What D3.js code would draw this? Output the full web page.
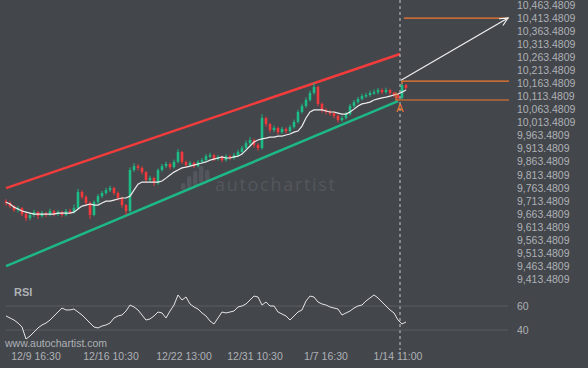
<!DOCTYPE html>
<html>
<head>
<meta charset="utf-8">
<script src="https://cdn.jsdelivr.net/npm/d3@7/dist/d3.min.js"></script>
<style>
  html, body { margin: 0; padding: 0; background: #43464b; }
  svg { display: block; }
</style>
</head>
<body>
<div id="chart"></div>
<script>
// closes, one bar every step; open is the previous close
var closes = [9706, 9694, 9679, 9686, 9663, 9648, 9660, 9671, 9656, 9667,
  9660, 9675, 9663, 9671, 9660, 9675, 9671, 9686, 9748, 9729,
  9706, 9660, 9709, 9732, 9744, 9755, 9763, 9744, 9725, 9698,
  9675, 9832, 9847, 9840, 9824, 9794, 9801, 9782, 9832, 9847,
  9855, 9843, 9863, 9901, 9863, 9851, 9859, 9847, 9863, 9870,
  9885, 9889, 9874, 9882, 9870, 9885, 9878, 9889, 9901, 9916,
  9935, 9947, 9928, 9916, 10031, 10008, 9985, 9993, 9977, 9989,
  9981, 9996, 10016, 10054, 10077, 10100, 10127, 10150, 10085, 10062,
  10054, 10050, 10039, 10023, 10031, 10046, 10077, 10092, 10104, 10115,
  10119, 10127, 10130, 10138, 10130, 10138, 10127, 10119, 10108, 10157,
  10146];
var firstOpen = 9712;
var highs = [9720, 9712, 9698, 9694, 9690, 9668, 9666, 9680, 9676, 9675,
  9672, 9684, 9680, 9678, 9676, 9683, 9684, 9700, 9760, 9755,
  9735, 9712, 9716, 9740, 9752, 9764, 9772, 9768, 9750, 9730,
  9702, 9842, 9858, 9855, 9846, 9828, 9810, 9806, 9838, 9855,
  9864, 9860, 9872, 9912, 9905, 9868, 9866, 9864, 9870, 9878,
  9893, 9898, 9894, 9890, 9887, 9892, 9891, 9897, 9910, 9925,
  9945, 9958, 9952, 9934, 10045, 10036, 10012, 10002, 9998, 9997,
  9995, 10004, 10025, 10063, 10086, 10110, 10136, 10165, 10155, 10090,
  10068, 10062, 10056, 10044, 10040, 10054, 10085, 10100, 10112, 10124,
  10128, 10136, 10140, 10146, 10144, 10147, 10143, 10132, 10124, 10163,
  10162];
var lows = [9696, 9686, 9672, 9670, 9655, 9636, 9640, 9652, 9645, 9650,
  9652, 9655, 9655, 9657, 9652, 9655, 9664, 9666, 9680, 9720,
  9698, 9645, 9655, 9702, 9725, 9738, 9748, 9736, 9715, 9688,
  9660, 9670, 9825, 9830, 9815, 9785, 9786, 9770, 9776, 9826,
  9840, 9835, 9838, 9858, 9855, 9843, 9845, 9840, 9842, 9856,
  9864, 9878, 9866, 9868, 9862, 9864, 9870, 9872, 9883, 9895,
  9910, 9928, 9918, 9906, 9910, 9998, 9975, 9978, 9968, 9970,
  9972, 9975, 9990, 10010, 10048, 10070, 10094, 10120, 10076, 10052,
  10045, 10040, 10030, 10014, 10016, 10025, 10040, 10070, 10086, 10098,
  10108, 10112, 10120, 10122, 10122, 10124, 10118, 10110, 10099, 10102,
  10140];

var movAvg = [9709, 9702, 9690, 9683, 9675, 9671, 9667, 9663, 9663, 9663,
  9663, 9663, 9663, 9667, 9667, 9667, 9667, 9671, 9683, 9694,
  9698, 9702, 9698, 9698, 9706, 9713, 9713, 9717, 9721, 9725,
  9725, 9732, 9755, 9778, 9786, 9786, 9786, 9786, 9786, 9790,
  9801, 9813, 9824, 9832, 9840, 9843, 9847, 9851, 9855, 9859,
  9863, 9870, 9874, 9878, 9882, 9878, 9878, 9882, 9885, 9893,
  9908, 9924, 9939, 9947, 9951, 9954, 9958, 9958, 9962, 9962,
  9966, 9970, 9977, 9981, 10000, 10031, 10054, 10062, 10062, 10062,
  10058, 10054, 10054, 10050, 10046, 10046, 10054, 10065, 10077, 10085,
  10088, 10092, 10100, 10104, 10108, 10111, 10115, 10119, 10123, 10130,
  10138];

var rsi = [51.7, 50, 48.3, 45.8, 42.5, 32.5, 35, 38.3, 41.7, 44.2,
  45.8, 48.3, 51.7, 55, 58.3, 56.7, 56.7, 57.5, 55, 52.5,
  49.2, 45.8, 42.5, 41.7, 43.3, 44.2, 45.8, 50, 51.7, 52.5,
  55.8, 60.8, 59.2, 56.7, 52.5, 48.3, 49.2, 51.7, 55, 54.2,
  50, 55.8, 60.8, 69.2, 65, 67.5, 61.7, 59.2, 57.5, 54.2,
  51.7, 47.5, 45, 50, 55, 54.2, 55, 55.8, 59.2, 60,
  61.7, 65, 68.3, 67.5, 60.8, 63.3, 60, 60, 55, 53.3,
  51.7, 48.3, 51.7, 55, 56.7, 64.2, 68.3, 67.5, 63.3, 61.7,
  60.8, 59.2, 58.3, 57.5, 52.5, 54.2, 55.8, 58.3, 60, 60.8,
  64.2, 66.7, 69.2, 66.7, 63.3, 60, 56.7, 54.2, 48.3, 45,
  46.7];

// channel end points [bar index, price]
var upperChannel = [[0, 9763], [98.5, 10276]];
var lowerChannel = [[0, 9464], [98, 10096]];

// forecast levels
var targetLevel = 10413.4809;
var resistLevel = 10172;
var supportLevel = 10100;
var nowIdx = 98.5;
var levelEndIdx = 125.75;

var priceTicks = [10463.4809, 10413.4809, 10363.4809, 10313.4809, 10263.4809, 10213.4809,
  10163.4809, 10113.4809, 10063.4809, 10013.4809, 9963.4809, 9913.4809, 9863.4809,
  9813.4809, 9763.4809, 9713.4809, 9663.4809, 9613.4809, 9563.4809, 9513.4809,
  9463.4809, 9413.4809];
var rsiTicks = [60, 40];
var dateIdx = [7.5, 26.25, 44.5, 62.25, 80, 98];
var dateLabels = ["12/9 16:30", "12/16 10:30", "12/22 13:00", "12/31 10:30", "1/7 16:30", "1/14 11:00"];

var width = 588, height = 368;
var font = "'Liberation Sans', Arial, sans-serif";
var textCol = "#aeb1b6";
var upCol = "#1dbb85", downCol = "#f0393c";

var x = d3.scaleLinear().domain([0, 100]).range([6, 406]);
var y = d3.scaleLinear().domain([9413.4809, 10463.4809]).range([279.4, 5]);
var yR = d3.scaleLinear().domain([40, 60]).range([330, 306]);

var svg = d3.select("#chart").append("svg")
    .attr("width", width)
    .attr("height", height)
    .style("background-color", "#43464b");

// watermark
var wm = svg.append("g").attr("fill", "#53575d");
[[181, 183, 190], [187, 176, 190], [193, 171, 186], [199, 166, 183], [205, 170, 181]].forEach(function(b) {
  wm.append("rect").attr("x", b[0]).attr("y", b[1]).attr("width", 4.5)
    .attr("height", b[2] - b[1]).attr("rx", 2);
});
wm.append("text")
    .attr("x", 215).attr("y", 191)
    .attr("font-family", "'Open Sans', sans-serif")
    .attr("font-size", 18)
    .attr("textLength", 120)
    .text("autochartist");

// right price axis
svg.append("g").selectAll("text")
    .data(priceTicks).enter().append("text")
    .attr("x", 517)
    .attr("y", function(d) { return y(d); })
    .attr("dy", "0.35em")
    .attr("font-family", font)
    .attr("font-size", 10.5)
    .attr("fill", textCol)
    .text(d3.format(",.4f"));

// channel lines
var line = d3.line()
    .x(function(d) { return x(d[0]); })
    .y(function(d) { return y(d[1]); });
svg.append("path").datum(upperChannel)
    .attr("d", line).attr("stroke", "#f23c3c").attr("stroke-width", 2.5).attr("fill", "none");
svg.append("path").datum(lowerChannel)
    .attr("d", line).attr("stroke", "#1db886").attr("stroke-width", 2.5).attr("fill", "none");

// candles
function openOf(i) { return i ? closes[i - 1] : firstOpen; }
function colOf(d, i) { return d >= openOf(i) ? upCol : downCol; }
var bars = svg.append("g");
bars.selectAll("line")
    .data(closes).enter().append("line")
    .attr("x1", function(d, i) { return x(i); })
    .attr("x2", function(d, i) { return x(i); })
    .attr("y1", function(d, i) { return y(highs[i]); })
    .attr("y2", function(d, i) { return y(lows[i]); })
    .attr("stroke", colOf)
    .attr("stroke-width", 1);
bars.selectAll("rect")
    .data(closes).enter().append("rect")
    .attr("x", function(d, i) { return x(i) - 1.3; })
    .attr("width", 2.6)
    .attr("y", function(d, i) { return y(Math.max(openOf(i), d)); })
    .attr("height", function(d, i) { return Math.max(1.5, Math.abs(y(openOf(i)) - y(d))); })
    .attr("fill", colOf);

// moving average
svg.append("path").datum(movAvg)
    .attr("d", d3.line().x(function(d, i) { return x(i); }).y(function(d) { return y(d); }))
    .attr("stroke", "#ececec").attr("stroke-width", 1.2).attr("fill", "none");

// now marker
svg.append("line")
    .attr("x1", x(nowIdx)).attr("x2", x(nowIdx))
    .attr("y1", 0).attr("y2", 350)
    .attr("stroke", "#c9c9c9").attr("stroke-width", 1)
    .attr("stroke-dasharray", "3,3");

// forecast levels
var orange = "#f5792f";
svg.append("line")
    .attr("x1", x(99.5)).attr("x2", x(levelEndIdx))
    .attr("y1", y(targetLevel)).attr("y2", y(targetLevel))
    .attr("stroke", orange).attr("stroke-width", 1.2);
svg.append("path")
    .attr("d", "M" + x(99) + "," + y(10160) + "V" + y(resistLevel) + "H" + x(levelEndIdx))
    .attr("stroke", orange).attr("stroke-width", 1.2).attr("fill", "none");
svg.append("path")
    .attr("d", "M" + x(97.5) + "," + y(10130) + "V" + y(supportLevel) + "H" + x(levelEndIdx))
    .attr("stroke", orange).attr("stroke-width", 1.2).attr("fill", "none");
svg.append("text")
    .attr("x", x(nowIdx)).attr("y", y(supportLevel) + 12)
    .attr("text-anchor", "middle")
    .attr("font-family", font).attr("font-size", 11)
    .attr("fill", orange)
    .text("A");

// forecast arrow
var ax0 = x(nowIdx) + 1, ay0 = y(resistLevel) - 1;
var ax1 = x(levelEndIdx) - 1, ay1 = y(targetLevel);
var ang = Math.atan2(ay1 - ay0, ax1 - ax0);
svg.append("line")
    .attr("x1", ax0).attr("y1", ay0).attr("x2", ax1).attr("y2", ay1)
    .attr("stroke", "#f0f0f0").attr("stroke-width", 1.2);
svg.append("path")
    .attr("d", "M" + (ax1 - 9 * Math.cos(ang - 0.45)) + "," + (ay1 - 9 * Math.sin(ang - 0.45)) +
      "L" + ax1 + "," + ay1 +
      "L" + (ax1 - 9 * Math.cos(ang + 0.45)) + "," + (ay1 - 9 * Math.sin(ang + 0.45)))
    .attr("stroke", "#f0f0f0").attr("stroke-width", 1.2).attr("fill", "none");

// RSI panel
svg.append("text")
    .attr("x", 14).attr("y", 296)
    .attr("font-family", font).attr("font-size", 11).attr("font-weight", "bold")
    .attr("fill", textCol)
    .text("RSI");
svg.append("g").selectAll("line")
    .data(rsiTicks).enter().append("line")
    .attr("x1", 6).attr("x2", 508)
    .attr("y1", function(d) { return yR(d); })
    .attr("y2", function(d) { return yR(d); })
    .attr("stroke", "#5b5f65").attr("stroke-width", 1);
svg.append("g").selectAll("text")
    .data(rsiTicks).enter().append("text")
    .attr("x", 517)
    .attr("y", function(d) { return yR(d); })
    .attr("dy", "0.35em")
    .attr("font-family", font).attr("font-size", 10.5)
    .attr("fill", textCol)
    .text(function(d) { return d; });
svg.append("path").datum(rsi)
    .attr("d", d3.line().x(function(d, i) { return x(i); }).y(function(d) { return yR(d); }))
    .attr("stroke", "#e4e4e4").attr("stroke-width", 1).attr("fill", "none");

// site name
svg.append("text")
    .attr("x", 5).attr("y", 347)
    .attr("font-family", font).attr("font-size", 10.5)
    .attr("fill", textCol)
    .text("www.autochartist.com");

// date axis
svg.append("g").selectAll("text")
    .data(dateIdx).enter().append("text")
    .attr("x", function(d) { return x(d); })
    .attr("y", 360)
    .attr("text-anchor", "middle")
    .attr("font-family", font).attr("font-size", 10.5)
    .attr("fill", textCol)
    .text(function(d, i) { return dateLabels[i]; });
</script>
</body>
</html>
